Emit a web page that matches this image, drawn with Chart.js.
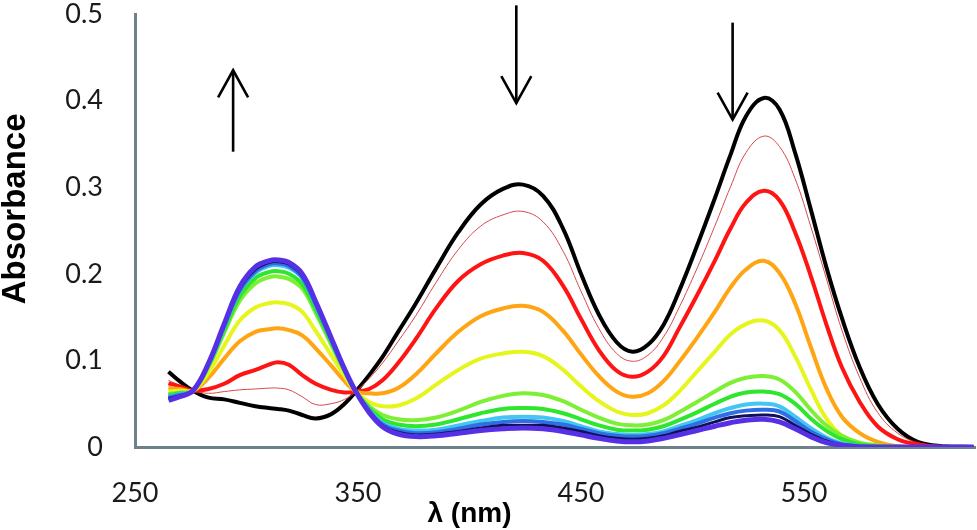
<!DOCTYPE html>
<html>
<head>
<meta charset="utf-8">
<script src="https://cdn.jsdelivr.net/npm/chart.js@4.4.1/dist/chart.umd.min.js"></script>
<style>
  html, body { margin: 0; padding: 0; background: #fff; }
  #wrap { width: 977px; height: 530px; }
</style>
</head>
<body>
<div id="wrap"><canvas id="uvChart" width="977" height="530"></canvas></div>
<script>
// wavelengths (nm) shared by every spectrum
const wavelengths = [265, 270, 276, 283, 290, 297, 304, 310, 314, 319, 325, 331, 338, 344, 349,
  355, 361, 368, 376, 385, 395, 405, 415, 424, 433, 442, 450, 458, 466, 473,
  480, 487, 494, 502, 510, 517, 524, 532, 539, 546, 553, 560, 567, 575, 583,
  592, 601, 612, 626];

// absorbance of each spectrum, first (black) to last (violet)
const specBlack = [0.087, 0.076, 0.065, 0.057, 0.055, 0.051, 0.047, 0.045, 0.044, 0.042,
  0.037, 0.033, 0.038, 0.050, 0.064, 0.083, 0.104, 0.133, 0.166, 0.206,
  0.248, 0.280, 0.298, 0.303, 0.290, 0.252, 0.200, 0.153, 0.121, 0.110,
  0.118, 0.141, 0.180, 0.232, 0.287, 0.337, 0.382, 0.403, 0.390, 0.340,
  0.275, 0.208, 0.149, 0.092, 0.050, 0.021, 0.006, 0.001, 0];
const specThinRed = [0.077, 0.071, 0.065, 0.062, 0.064, 0.066, 0.067, 0.068, 0.068, 0.066,
  0.058, 0.049, 0.050, 0.055, 0.064, 0.079, 0.097, 0.122, 0.152, 0.190,
  0.228, 0.255, 0.268, 0.272, 0.260, 0.226, 0.180, 0.137, 0.108, 0.099,
  0.106, 0.127, 0.161, 0.206, 0.255, 0.300, 0.340, 0.359, 0.347, 0.310,
  0.255, 0.195, 0.135, 0.080, 0.040, 0.016, 0.005, 0.001, 0];
const specRed = [0.0735, 0.070, 0.065, 0.067, 0.073, 0.083, 0.089, 0.095, 0.098, 0.095,
  0.083, 0.073, 0.066, 0.063, 0.064, 0.067, 0.077, 0.097, 0.125, 0.160,
  0.192, 0.211, 0.221, 0.224, 0.215, 0.186, 0.148, 0.112, 0.088, 0.081,
  0.087, 0.105, 0.137, 0.175, 0.215, 0.252, 0.282, 0.296, 0.285, 0.248,
  0.198, 0.142, 0.092, 0.052, 0.024, 0.009, 0.003, 0, 0];
const specOrange = [0.068, 0.067, 0.065, 0.080, 0.102, 0.122, 0.133, 0.136, 0.137, 0.135,
  0.129, 0.114, 0.094, 0.076, 0.064, 0.062, 0.062, 0.068, 0.084, 0.108,
  0.133, 0.151, 0.160, 0.163, 0.156, 0.134, 0.107, 0.082, 0.064, 0.058,
  0.062, 0.076, 0.098, 0.126, 0.156, 0.184, 0.205, 0.215, 0.201, 0.166,
  0.116, 0.068, 0.035, 0.016, 0.006, 0.001, 0, 0, 0];
const specYellow = [0.064, 0.065, 0.065, 0.086, 0.117, 0.146, 0.161, 0.166, 0.167, 0.165,
  0.156, 0.134, 0.106, 0.082, 0.064, 0.052, 0.047, 0.048, 0.056, 0.072,
  0.089, 0.102, 0.108, 0.110, 0.105, 0.089, 0.070, 0.053, 0.041, 0.037,
  0.039, 0.048, 0.064, 0.087, 0.110, 0.130, 0.142, 0.146, 0.135, 0.105,
  0.067, 0.033, 0.013, 0.004, 0.001, 0, 0, 0, 0];
const specLime = [0.061, 0.063, 0.065, 0.093, 0.132, 0.169, 0.189, 0.196, 0.197, 0.194,
  0.183, 0.155, 0.118, 0.087, 0.064, 0.047, 0.037, 0.032, 0.031, 0.034,
  0.042, 0.052, 0.059, 0.062, 0.060, 0.053, 0.043, 0.034, 0.027, 0.025,
  0.026, 0.031, 0.040, 0.052, 0.064, 0.074, 0.080, 0.082, 0.078, 0.064,
  0.043, 0.025, 0.013, 0.005, 0.002, 0, 0, 0, 0];
const specGreen = [0.060, 0.062, 0.065, 0.094, 0.135, 0.174, 0.195, 0.202, 0.203, 0.200,
  0.188, 0.159, 0.121, 0.088, 0.064, 0.045, 0.032, 0.026, 0.024, 0.026,
  0.032, 0.039, 0.044, 0.045, 0.044, 0.039, 0.032, 0.025, 0.020, 0.019,
  0.020, 0.024, 0.031, 0.040, 0.050, 0.058, 0.063, 0.064, 0.061, 0.050,
  0.033, 0.019, 0.009, 0.003, 0.001, 0, 0, 0, 0];
const specCyan = [0.058, 0.061, 0.065, 0.095, 0.139, 0.180, 0.201, 0.209, 0.210, 0.207,
  0.195, 0.164, 0.124, 0.089, 0.064, 0.043, 0.028, 0.021, 0.019, 0.020,
  0.025, 0.030, 0.034, 0.035, 0.034, 0.030, 0.024, 0.018, 0.015, 0.014,
  0.015, 0.018, 0.024, 0.031, 0.039, 0.045, 0.049, 0.050, 0.047, 0.035,
  0.022, 0.011, 0.004, 0.001, 0, 0, 0, 0, 0];
const specBlue = [0.057, 0.060, 0.065, 0.096, 0.140, 0.181, 0.203, 0.211, 0.212, 0.209,
  0.196, 0.165, 0.124, 0.089, 0.064, 0.042, 0.026, 0.019, 0.016, 0.017,
  0.021, 0.026, 0.029, 0.030, 0.029, 0.026, 0.021, 0.016, 0.013, 0.012,
  0.013, 0.016, 0.021, 0.027, 0.034, 0.039, 0.042, 0.043, 0.041, 0.030,
  0.018, 0.009, 0.003, 0.001, 0, 0, 0, 0, 0];
const specNavy = [0.056, 0.059, 0.065, 0.096, 0.141, 0.183, 0.205, 0.213, 0.214, 0.211,
  0.198, 0.167, 0.125, 0.090, 0.064, 0.041, 0.025, 0.017, 0.014, 0.015,
  0.018, 0.022, 0.025, 0.025, 0.025, 0.022, 0.018, 0.013, 0.010, 0.009,
  0.010, 0.013, 0.018, 0.023, 0.029, 0.034, 0.036, 0.037, 0.035, 0.025,
  0.015, 0.007, 0.002, 0, 0, 0, 0, 0, 0];
const specViolet = [0.054, 0.058, 0.065, 0.097, 0.142, 0.185, 0.208, 0.215, 0.216, 0.213,
  0.200, 0.168, 0.126, 0.090, 0.064, 0.040, 0.0235, 0.015, 0.012, 0.013,
  0.016, 0.019, 0.021, 0.022, 0.021, 0.018, 0.014, 0.010, 0.007, 0.006,
  0.007, 0.010, 0.014, 0.019, 0.024, 0.028, 0.031, 0.032, 0.029, 0.021,
  0.012, 0.005, 0.002, 0, 0, 0, 0, 0, 0];

// tick labels
const xTicks = [250, 350, 450, 550];
const yTicks = [0, 0.1, 0.2, 0.3, 0.4, 0.5];

// arrows drawn over the plot, in data units (nm, absorbance)
const arrows = [
  { x: 294, from: 0.341, to: 0.435 },
  { x: 421, from: 0.510, to: 0.397 },
  { x: 518, from: 0.490, to: 0.378 }
];

const spectra = [
  { data: specBlack, color: '#000000', width: 4 },
  { data: specThinRed, color: '#d9474a', width: 1 },
  { data: specRed, color: '#ff1414', width: 4 },
  { data: specOrange, color: '#ffa514', width: 4 },
  { data: specYellow, color: '#e6f51c', width: 4 },
  { data: specLime, color: '#7def34', width: 4 },
  { data: specGreen, color: '#2de62d', width: 4 },
  { data: specCyan, color: '#42c6f2', width: 4 },
  { data: specBlue, color: '#2f6fe6', width: 4 },
  { data: specNavy, color: '#10105a', width: 3 },
  { data: specViolet, color: '#5530e4', width: 5 }
];

const overlay = {
  id: 'overlay',
  afterDatasetsDraw(chart) {
    const { ctx, scales: { x, y } } = chart;
    ctx.save();
    ctx.strokeStyle = '#000';
    ctx.lineWidth = 2.6;
    arrows.forEach(a => {
      const px = x.getPixelForValue(a.x);
      const y0 = y.getPixelForValue(a.from);
      const y1 = y.getPixelForValue(a.to);
      const dir = y1 < y0 ? 1 : -1;
      ctx.beginPath();
      ctx.moveTo(px, y0);
      ctx.lineTo(px, y1);
      ctx.stroke();
      ctx.beginPath();
      ctx.moveTo(px - 15, y1 + dir * 27);
      ctx.lineTo(px, y1);
      ctx.lineTo(px + 15, y1 + dir * 27);
      ctx.stroke();
    });

    // axis titles
    ctx.fillStyle = '#000';
    ctx.textAlign = 'center';
    ctx.textBaseline = 'middle';
    ctx.font = 'bold 28px "Liberation Sans", Arial, sans-serif';
    ctx.fillText('λ (nm)', x.getPixelForValue(400), 514);
    ctx.translate(16, y.getPixelForValue(0.275));
    ctx.rotate(-Math.PI / 2);
    ctx.font = 'bold 33px "Liberation Sans", Arial, sans-serif';
    ctx.fillText('Absorbance', 0, 0);
    ctx.restore();
  }
};

const ctx = document.getElementById('uvChart').getContext('2d');
new Chart(ctx, {
  type: 'line',
  data: {
    datasets: spectra.map((s, i) => ({
      data: wavelengths.map((w, j) => ({ x: w, y: s.data[j] })),
      borderColor: s.color,
      borderWidth: s.width,
      pointRadius: 0,
      fill: false,
      tension: 0.4,
      order: spectra.length - i
    }))
  },
  options: {
    responsive: false,
    animation: false,
    devicePixelRatio: 1,
    layout: { padding: { top: 14, right: 2, left: 0, bottom: 0 } },
    plugins: { legend: { display: false }, tooltip: { enabled: false } },
    scales: {
      x: {
        type: 'linear',
        min: 250,
        max: 626.7,
        afterBuildTicks: scale => { scale.ticks = xTicks.map(v => ({ value: v })); },
        afterFit: scale => {
          scale.height = 83;
          scale.paddingLeft = 0;
          scale.paddingRight = 0;
        },
        grid: { display: false, drawTicks: false },
        border: { display: true, color: '#6e8089', width: 3 },
        ticks: {
          padding: 33,
          color: '#1a1a1a',
          font: { family: 'Lato', size: 27, lineHeight: 1 },
          maxRotation: 0
        }
      },
      y: {
        min: 0,
        max: 0.5,
        afterBuildTicks: scale => { scale.ticks = yTicks.map(v => ({ value: v })); },
        afterFit: scale => {
          scale.width = 135;
          scale.paddingTop = 0;
          scale.paddingBottom = 0;
        },
        grid: { display: false, drawTicks: false },
        border: { display: true, color: '#6e8089', width: 3 },
        ticks: {
          padding: 32,
          color: '#1a1a1a',
          font: { family: 'Lato', size: 27, lineHeight: 1 }
        }
      }
    }
  },
  plugins: [overlay]
});
</script>
</body>
</html>
